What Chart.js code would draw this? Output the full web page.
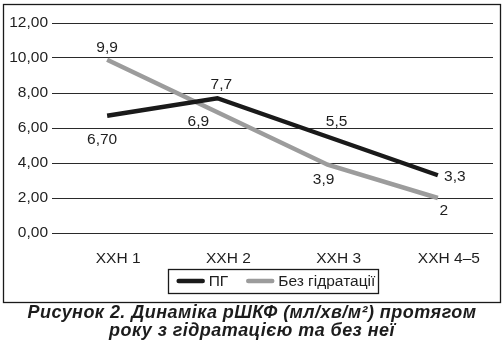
<!DOCTYPE html>
<html>
<head>
<meta charset="utf-8">
<script src="https://cdn.jsdelivr.net/npm/chart.js@4.4.0/dist/chart.umd.min.js"></script>
<style>
  body { margin: 0; background: #fff; }
  #wrap { position: relative; width: 504px; height: 348px; }
  #chart { position: absolute; left: 0; top: 0; }
  #caption {
    position: absolute; left: 0; top: 304px; width: 504px; text-align: center;
    font: italic bold 18px/17.5px "Liberation Sans", Arial, sans-serif; color: #1c1c1c;
    letter-spacing: 0.45px;
  }
</style>
</head>
<body>
<div id="wrap">
  <canvas id="chart" width="504" height="304"></canvas>
  <div id="caption">Рисунок 2. Динаміка рШКФ (мл/хв/м²) протягом<br>року з гідратацією та без неї</div>
</div>
<script>
// stages of CKD
const categories = ["ХХН 1", "ХХН 2", "ХХН 3", "ХХН 4–5"];

// eGFR, ml/min/m2
const pgValues = [6.70, 7.7, 5.5, 3.3];
const pgDecimals = [2, 1, 1, 1];
const noHydrValues = [9.9, 6.9, 3.9, 2];
const noHydrDecimals = [1, 1, 1, 0];

const yTicks = [0, 2, 4, 6, 8, 10, 12];

const FONT = '"Liberation Sans", Arial, sans-serif';
const FONT_SIZE = 15.5;
const TEXT = "#1e1e1e";

function fmt(v, d) {
  return v.toFixed(d).replace(".", ",");
}

// value labels next to each point
const valueLabels = {
  id: "valueLabels",
  afterDatasetsDraw(chart, args, opts) {
    const ctx = chart.ctx;
    ctx.save();
    ctx.font = FONT_SIZE + "px " + FONT;
    ctx.fillStyle = TEXT;
    ctx.textAlign = "center";
    ctx.textBaseline = "middle";
    chart.data.datasets.forEach((ds, i) => {
      const meta = chart.getDatasetMeta(i);
      meta.data.forEach((pt, j) => {
        const off = opts.offsets[i][j];
        ctx.fillText(fmt(ds.data[j], ds.decimals[j]), pt.x + off[0], pt.y + off[1] + 1);
      });
    });
    ctx.restore();
  }
};

// framed legend under the axis + outer border
const boxLegend = {
  id: "boxLegend",
  afterDraw(chart, args, opts) {
    const ctx = chart.ctx;
    const area = chart.chartArea;
    ctx.save();
    ctx.font = FONT_SIZE + "px " + FONT;
    const items = chart.data.datasets.map(ds => ({ ds: ds, w: ctx.measureText(ds.label).width }));
    let total = opts.itemGap * (items.length - 1);
    items.forEach(it => { total += opts.markerWidth + opts.textGap + it.w; });
    const frameW = total + opts.padL + opts.padR;
    const frameX = (area.left + area.right) / 2 - frameW / 2;
    const cy = opts.top + opts.height / 2;

    ctx.strokeStyle = "#1a1a1a";
    ctx.lineWidth = 1.3;
    ctx.strokeRect(Math.round(frameX) + 0.5, opts.top + 0.5, Math.round(frameW), opts.height);

    let x = frameX + opts.padL;
    ctx.textAlign = "left";
    ctx.textBaseline = "middle";
    items.forEach(it => {
      ctx.strokeStyle = it.ds.borderColor;
      ctx.lineWidth = 4.5;
      ctx.lineCap = "round";
      ctx.beginPath();
      ctx.moveTo(x + 2, cy);
      ctx.lineTo(x + opts.markerWidth - 2, cy);
      ctx.stroke();
      x += opts.markerWidth + opts.textGap;
      ctx.fillStyle = TEXT;
      ctx.fillText(it.ds.label, x, cy + 1);
      x += it.w + opts.itemGap;
    });

    ctx.strokeStyle = "#1a1a1a";
    ctx.lineWidth = 1.3;
    ctx.lineCap = "butt";
    ctx.strokeRect(3.5, 4.5, 497, 298);
    ctx.restore();
  }
};

new Chart(document.getElementById("chart"), {
  type: "line",
  data: {
    labels: categories,
    datasets: [
      {
        label: "ПГ",
        data: pgValues,
        decimals: pgDecimals,
        borderColor: "#1a1a1a",
        borderWidth: 4.5,
        pointRadius: 0,
        fill: false,
        tension: 0
      },
      {
        label: "Без гідратації",
        data: noHydrValues,
        decimals: noHydrDecimals,
        borderColor: "#9c9c9c",
        borderWidth: 4.5,
        pointRadius: 0,
        fill: false,
        tension: 0
      }
    ]
  },
  options: {
    responsive: false,
    animation: false,
    layout: { padding: { top: 23, right: 11, left: 0, bottom: 0 } },
    plugins: {
      legend: { display: false },
      tooltip: { enabled: false },
      valueLabels: {
        offsets: [
          [[-5, 23], [4, -15], [9, -16], [17, 0]],
          [[0, -13], [-19, 8], [-4, 14], [6, 12]]
        ]
      },
      boxLegend: { top: 269, height: 24, padL: 9, padR: 2, markerWidth: 28, textGap: 4, itemGap: 18 }
    },
    scales: {
      x: {
        offset: true,
        afterFit(scale) { scale.height = 71; },
        grid: { display: false },
        border: { display: false },
        ticks: { padding: 8, labelOffset: 11, color: TEXT, font: { family: FONT, size: FONT_SIZE } }
      },
      y: {
        min: 0,
        max: 12,
        afterFit(scale) { scale.width = 52; },
        afterBuildTicks(scale) { scale.ticks = yTicks.map(v => ({ value: v })); },
        grid: { color: "#2a2a2a", lineWidth: 1, drawTicks: false },
        border: { display: false },
        ticks: {
          padding: 4,
          color: TEXT,
          font: { family: FONT, size: FONT_SIZE },
          callback: v => fmt(v, 2)
        }
      }
    }
  },
  plugins: [valueLabels, boxLegend]
});
</script>
</body>
</html>
